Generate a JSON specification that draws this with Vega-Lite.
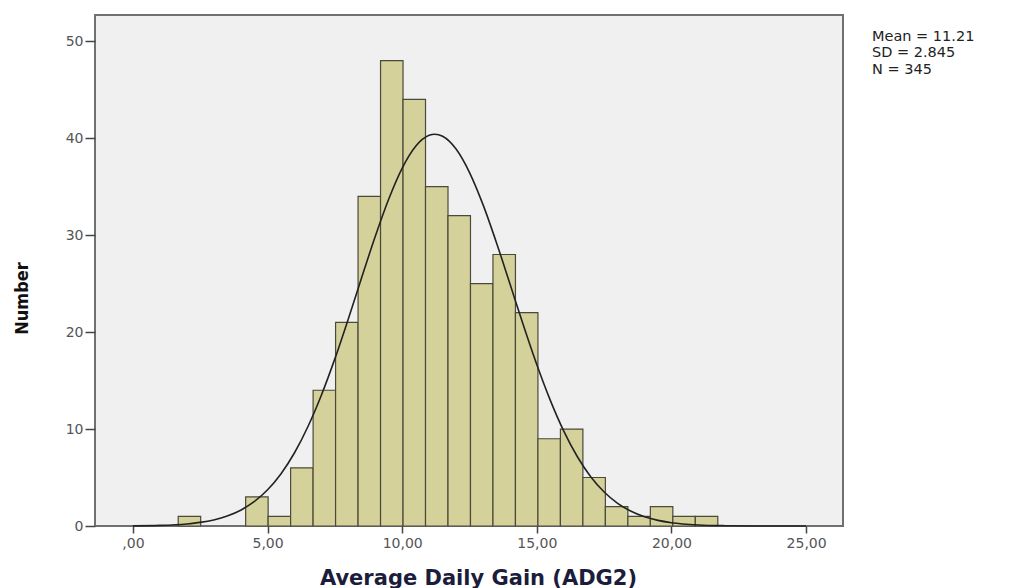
{
  "$schema": "https://vega.github.io/schema/vega-lite/v6.json",
  "width": 748,
  "height": 511,
  "autosize": {"type": "none"},
  "padding": {"left": 95, "top": 15, "right": 166, "bottom": 62},
  "background": "#ffffff",
  "config": {
    "font": "Liberation Sans",
    "view": {"fill": "#f0f0f0", "stroke": "#707070", "strokeWidth": 2}
  },
  "title": {
    "text": ["Mean = 11.21", "SD = 2.845", "N = 345"],
    "anchor": "end",
    "align": "left",
    "frame": "group",
    "baseline": "top",
    "dx": 29,
    "dy": 62,
    "offset": 0,
    "fontSize": 14.5,
    "fontWeight": "normal",
    "color": "#222222",
    "lineHeight": 16.5,
    "font": "DejaVu Sans"
  },
  "datasets": {
    "bins": [
      {"bin_start": 1.68, "bin_end": 2.515, "count": 1},
      {"bin_start": 4.185, "bin_end": 5.02, "count": 3},
      {"bin_start": 5.02, "bin_end": 5.855, "count": 1},
      {"bin_start": 5.855, "bin_end": 6.69, "count": 6},
      {"bin_start": 6.69, "bin_end": 7.525, "count": 14},
      {"bin_start": 7.525, "bin_end": 8.36, "count": 21},
      {"bin_start": 8.36, "bin_end": 9.195, "count": 34},
      {"bin_start": 9.195, "bin_end": 10.03, "count": 48},
      {"bin_start": 10.03, "bin_end": 10.865, "count": 44},
      {"bin_start": 10.865, "bin_end": 11.7, "count": 35},
      {"bin_start": 11.7, "bin_end": 12.535, "count": 32},
      {"bin_start": 12.535, "bin_end": 13.37, "count": 25},
      {"bin_start": 13.37, "bin_end": 14.205, "count": 28},
      {"bin_start": 14.205, "bin_end": 15.04, "count": 22},
      {"bin_start": 15.04, "bin_end": 15.875, "count": 9},
      {"bin_start": 15.875, "bin_end": 16.71, "count": 10},
      {"bin_start": 16.71, "bin_end": 17.545, "count": 5},
      {"bin_start": 17.545, "bin_end": 18.38, "count": 2},
      {"bin_start": 18.38, "bin_end": 19.215, "count": 1},
      {"bin_start": 19.215, "bin_end": 20.05, "count": 2},
      {"bin_start": 20.05, "bin_end": 20.885, "count": 1},
      {"bin_start": 20.885, "bin_end": 21.72, "count": 1}
    ],
    "curve": [
      {"x": 0, "y": 0.017}, {"x": 1, "y": 0.064}, {"x": 2, "y": 0.214}, {"x": 2.5, "y": 0.372},
      {"x": 3, "y": 0.628}, {"x": 3.5, "y": 1.027}, {"x": 4, "y": 1.628}, {"x": 4.5, "y": 2.503},
      {"x": 5, "y": 3.732}, {"x": 5.5, "y": 5.392}, {"x": 6, "y": 7.554}, {"x": 6.5, "y": 10.26},
      {"x": 7, "y": 13.51}, {"x": 7.5, "y": 17.26}, {"x": 8, "y": 21.38}, {"x": 8.5, "y": 25.67},
      {"x": 9, "y": 29.88}, {"x": 9.5, "y": 33.72}, {"x": 10, "y": 36.91}, {"x": 10.5, "y": 39.16},
      {"x": 11, "y": 40.29}, {"x": 11.21, "y": 40.4}, {"x": 11.5, "y": 40.19}, {"x": 12, "y": 38.87},
      {"x": 12.5, "y": 36.45}, {"x": 13, "y": 33.14}, {"x": 13.5, "y": 29.22}, {"x": 14, "y": 24.98},
      {"x": 14.5, "y": 20.7}, {"x": 15, "y": 16.63}, {"x": 15.5, "y": 12.96}, {"x": 16, "y": 9.79},
      {"x": 16.5, "y": 7.17}, {"x": 17, "y": 5.09}, {"x": 17.5, "y": 3.51}, {"x": 18, "y": 2.34},
      {"x": 18.5, "y": 1.52}, {"x": 19, "y": 0.951}, {"x": 19.5, "y": 0.579}, {"x": 20, "y": 0.342},
      {"x": 21, "y": 0.108}, {"x": 22, "y": 0.03}, {"x": 23, "y": 0.007}, {"x": 24, "y": 0.001}, {"x": 25, "y": 0}
    ]
  },
  "layer": [
    {
      "data": {"name": "bins"},
      "mark": {"type": "rect", "fill": "#d5d19b", "stroke": "#4a4a3a", "strokeWidth": 1.2},
      "encoding": {
        "x": {
          "field": "bin_start", "type": "quantitative",
          "scale": {"domain": [-1.41, 26.37], "nice": false, "zero": false},
          "axis": {
            "values": [0, 5, 10, 15, 20, 25],
            "labelExpr": "datum.value == 0 ? ',00' : replace(format(datum.value, '.2f'), '.', ',')",
            "grid": false, "domain": false,
            "tickSize": 7, "tickColor": "#444444", "tickWidth": 1.5,
            "labelFont": "DejaVu Sans", "labelFontSize": 14, "labelColor": "#555555", "labelPadding": 3,
            "title": "Average Daily Gain (ADG2)",
            "titleFont": "DejaVu Sans", "titleFontSize": 21, "titleFontWeight": "bold",
            "titleColor": "#1c1c3c", "titleX": 383, "titleY": 52, "titleBaseline": "middle"
          }
        },
        "x2": {"field": "bin_end"},
        "y": {
          "field": "count", "type": "quantitative",
          "scale": {"domain": [0, 52.7], "nice": false},
          "axis": {
            "values": [0, 10, 20, 30, 40, 50],
            "grid": false, "domain": false,
            "tickSize": 10, "tickColor": "#444444", "tickWidth": 1.5,
            "labelFont": "DejaVu Sans", "labelFontSize": 14, "labelColor": "#555555", "labelPadding": 2,
            "title": "Number",
            "titleFont": "DejaVu Sans Condensed", "titleFontSize": 18, "titleFontWeight": "bold",
            "titleColor": "#111111", "titleX": -73, "titleY": 283, "titleBaseline": "middle", "titleAngle": 270
          }
        },
        "y2": {"datum": 0}
      }
    },
    {
      "data": {"name": "curve"},
      "mark": {"type": "line", "color": "#222222", "strokeWidth": 1.6, "interpolate": "monotone"},
      "encoding": {
        "x": {"field": "x", "type": "quantitative"},
        "y": {"field": "y", "type": "quantitative"}
      }
    }
  ]
}
